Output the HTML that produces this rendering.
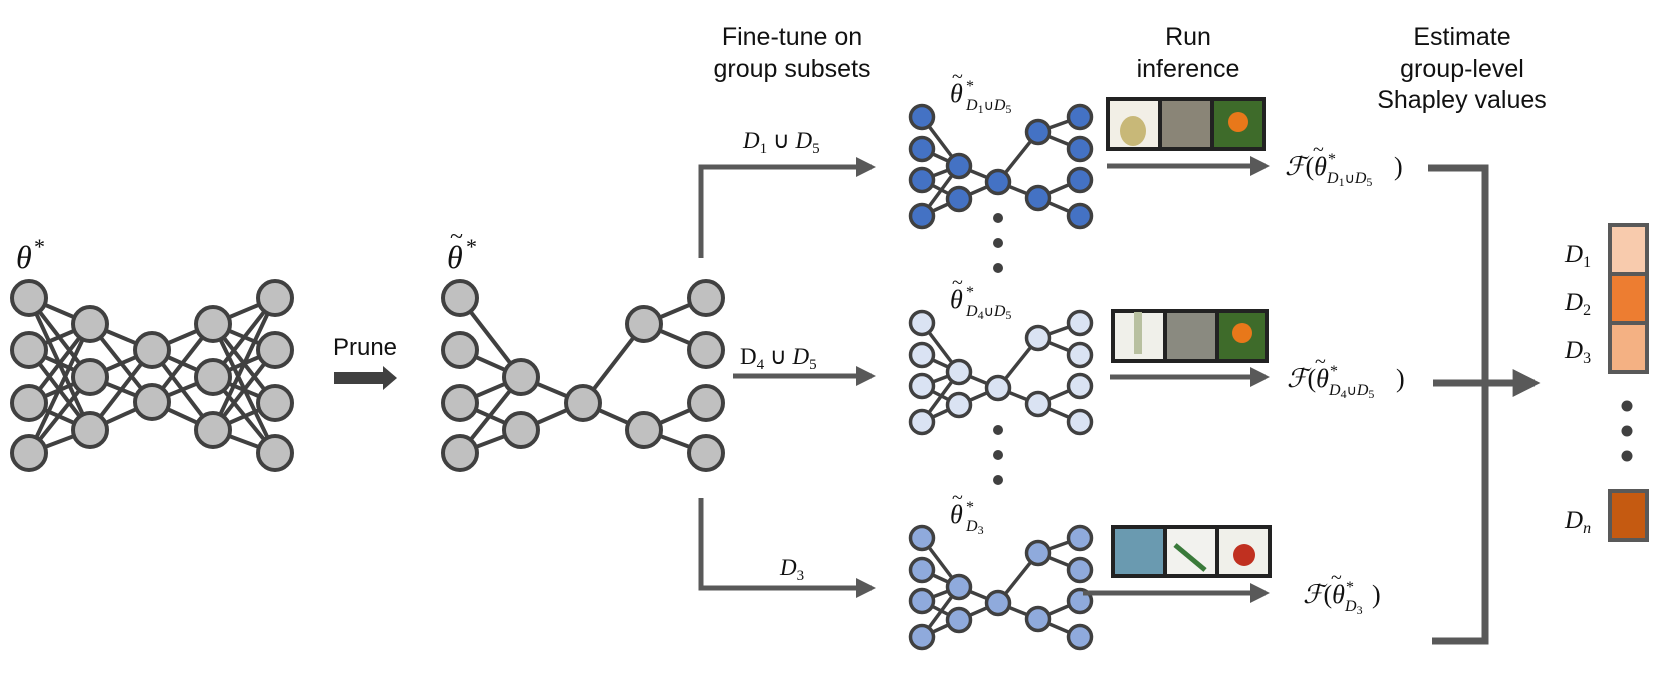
<!DOCTYPE html>
<html><head><meta charset="utf-8"><style>
html,body{margin:0;padding:0;background:#fff;}
svg{display:block;}
.h{font-family:"Liberation Sans",sans-serif;font-size:25px;fill:#111;text-anchor:middle;}
.m{font-family:"Liberation Serif",serif;font-style:italic;fill:#111;}
.n{font-family:"Liberation Serif",serif;fill:#111;}
</style></head><body>
<svg width="1661" height="673" viewBox="0 0 1661 673" xmlns="http://www.w3.org/2000/svg">
<defs>
<marker id="ah" markerWidth="4" markerHeight="4" refX="3.2" refY="2" orient="auto" markerUnits="strokeWidth"><path d="M0,0 L4,2 L0,4 z" fill="#595959"/></marker>
</defs>
<text class="h" x="792" y="45">Fine-tune on</text>
<text class="h" x="792" y="77">group subsets</text>
<text class="h" x="1188" y="45">Run</text>
<text class="h" x="1188" y="77">inference</text>
<text class="h" x="1462" y="45">Estimate</text>
<text class="h" x="1462" y="77">group-level</text>
<text class="h" x="1462" y="108">Shapley values</text>

<g stroke="#404040" stroke-width="4">
<path d="M29,298 L90,324 M29,298 L90,377 M29,298 L90,430 M29,350 L90,324 M29,350 L90,377 M29,350 L90,430 M29,403 L90,324 M29,403 L90,377 M29,403 L90,430 M29,453 L90,324 M29,453 L90,377 M29,453 L90,430
M90,324 L152,350 M90,324 L152,402 M90,377 L152,350 M90,377 L152,402 M90,430 L152,350 M90,430 L152,402
M152,350 L213,324 M152,350 L213,377 M152,350 L213,430 M152,402 L213,324 M152,402 L213,377 M152,402 L213,430
M213,324 L275,298 M213,324 L275,350 M213,324 L275,403 M213,324 L275,453 M213,377 L275,298 M213,377 L275,350 M213,377 L275,403 M213,377 L275,453 M213,430 L275,298 M213,430 L275,350 M213,430 L275,403 M213,430 L275,453" fill="none"/>
<g fill="#c0c0c0">
<circle cx="29" cy="298" r="17"/><circle cx="29" cy="350" r="17"/><circle cx="29" cy="403" r="17"/><circle cx="29" cy="453" r="17"/>
<circle cx="90" cy="324" r="17"/><circle cx="90" cy="377" r="17"/><circle cx="90" cy="430" r="17"/>
<circle cx="152" cy="350" r="17"/><circle cx="152" cy="402" r="17"/>
<circle cx="213" cy="324" r="17"/><circle cx="213" cy="377" r="17"/><circle cx="213" cy="430" r="17"/>
<circle cx="275" cy="298" r="17"/><circle cx="275" cy="350" r="17"/><circle cx="275" cy="403" r="17"/><circle cx="275" cy="453" r="17"/>
</g>
</g>
<text class="m" x="16" y="268" font-size="32">θ</text>
<text class="n" x="34" y="254" font-size="22">*</text>

<text x="365" y="355" font-family="Liberation Sans,sans-serif" font-size="24" text-anchor="middle" fill="#111">Prune</text>
<path d="M334,372 H383 V366 L397,378 L383,390 V384 H334 Z" fill="#404040"/>

<g stroke="#404040" stroke-width="4">
<path d="M460,298 L521,377 M460,350 L521,377 M460,403 L521,377 M460,403 L521,430 M460,453 L521,377 M460,453 L521,430 M521,377 L583,403 M521,430 L583,403 M583,403 L644,324 M583,403 L644,430 M644,324 L706,298 M644,324 L706,350 M644,430 L706,403 M644,430 L706,453" fill="none"/>
<g fill="#c0c0c0">
<circle cx="460" cy="298" r="17"/><circle cx="460" cy="350" r="17"/><circle cx="460" cy="403" r="17"/><circle cx="460" cy="453" r="17"/>
<circle cx="521" cy="377" r="17"/><circle cx="521" cy="430" r="17"/>
<circle cx="583" cy="403" r="17"/>
<circle cx="644" cy="324" r="17"/><circle cx="644" cy="430" r="17"/>
<circle cx="706" cy="298" r="17"/><circle cx="706" cy="350" r="17"/><circle cx="706" cy="403" r="17"/><circle cx="706" cy="453" r="17"/>
</g>
</g>
<text class="m" x="447" y="268" font-size="32">θ</text>
<text class="n" x="450" y="244" font-size="24">~</text>
<text class="n" x="466" y="254" font-size="22">*</text>

<g stroke="#595959" stroke-width="5" fill="none">
<path d="M701,258 V167 H872" marker-end="url(#ah)"/>
<path d="M733,376 H872" marker-end="url(#ah)"/>
<path d="M701,498 V588 H872" marker-end="url(#ah)"/>
</g>
<text class="m" x="743" y="148" font-size="23">D<tspan font-size="15" dy="5" font-style="normal">1</tspan><tspan dy="-5" font-style="normal"> ∪ </tspan>D<tspan font-size="15" dy="5" font-style="normal">5</tspan></text>
<text x="740" y="364" font-size="23" font-family="Liberation Serif,serif" fill="#111">D<tspan font-size="15" dy="5">4</tspan><tspan dy="-5"> ∪ </tspan><tspan font-style="italic">D</tspan><tspan font-size="15" dy="5">5</tspan></text>
<text class="m" x="780" y="575" font-size="23">D<tspan font-size="15" dy="5" font-style="normal">3</tspan></text>

<g stroke="#404040" stroke-width="3.5">
<path d="M922,117 L959,166 M922,149 L959,166 M922,180 L959,166 M922,180 L959,199 M922,216 L959,166 M922,216 L959,199 M959,166 L998,182 M959,199 L998,182 M998,182 L1038,132 M998,182 L1038,198 M1038,132 L1080,117 M1038,132 L1080,149 M1038,198 L1080,180 M1038,198 L1080,216" fill="none"/>
<g fill="#4472c4">
<circle cx="922" cy="117" r="11.5"/><circle cx="922" cy="149" r="11.5"/><circle cx="922" cy="180" r="11.5"/><circle cx="922" cy="216" r="11.5"/>
<circle cx="959" cy="166" r="11.5"/><circle cx="959" cy="199" r="11.5"/><circle cx="998" cy="182" r="11.5"/>
<circle cx="1038" cy="132" r="11.5"/><circle cx="1038" cy="198" r="11.5"/>
<circle cx="1080" cy="117" r="11.5"/><circle cx="1080" cy="149" r="11.5"/><circle cx="1080" cy="180" r="11.5"/><circle cx="1080" cy="216" r="11.5"/>
</g>
</g>
<g transform="translate(0,206)" stroke="#404040" stroke-width="3.5">
<path d="M922,117 L959,166 M922,149 L959,166 M922,180 L959,166 M922,180 L959,199 M922,216 L959,166 M922,216 L959,199 M959,166 L998,182 M959,199 L998,182 M998,182 L1038,132 M998,182 L1038,198 M1038,132 L1080,117 M1038,132 L1080,149 M1038,198 L1080,180 M1038,198 L1080,216" fill="none"/>
<g fill="#dae3f3">
<circle cx="922" cy="117" r="11.5"/><circle cx="922" cy="149" r="11.5"/><circle cx="922" cy="180" r="11.5"/><circle cx="922" cy="216" r="11.5"/>
<circle cx="959" cy="166" r="11.5"/><circle cx="959" cy="199" r="11.5"/><circle cx="998" cy="182" r="11.5"/>
<circle cx="1038" cy="132" r="11.5"/><circle cx="1038" cy="198" r="11.5"/>
<circle cx="1080" cy="117" r="11.5"/><circle cx="1080" cy="149" r="11.5"/><circle cx="1080" cy="180" r="11.5"/><circle cx="1080" cy="216" r="11.5"/>
</g>
</g>
<g transform="translate(0,421)" stroke="#404040" stroke-width="3.5">
<path d="M922,117 L959,166 M922,149 L959,166 M922,180 L959,166 M922,180 L959,199 M922,216 L959,166 M922,216 L959,199 M959,166 L998,182 M959,199 L998,182 M998,182 L1038,132 M998,182 L1038,198 M1038,132 L1080,117 M1038,132 L1080,149 M1038,198 L1080,180 M1038,198 L1080,216" fill="none"/>
<g fill="#8faadc">
<circle cx="922" cy="117" r="11.5"/><circle cx="922" cy="149" r="11.5"/><circle cx="922" cy="180" r="11.5"/><circle cx="922" cy="216" r="11.5"/>
<circle cx="959" cy="166" r="11.5"/><circle cx="959" cy="199" r="11.5"/><circle cx="998" cy="182" r="11.5"/>
<circle cx="1038" cy="132" r="11.5"/><circle cx="1038" cy="198" r="11.5"/>
<circle cx="1080" cy="117" r="11.5"/><circle cx="1080" cy="149" r="11.5"/><circle cx="1080" cy="180" r="11.5"/><circle cx="1080" cy="216" r="11.5"/>
</g>
</g>
<g fill="#404040">
<circle cx="998" cy="218" r="5"/><circle cx="998" cy="243" r="5"/><circle cx="998" cy="268" r="5"/>
<circle cx="998" cy="430" r="5"/><circle cx="998" cy="455" r="5"/><circle cx="998" cy="480" r="5"/>
<circle cx="1627" cy="406" r="5.5"/><circle cx="1627" cy="431" r="5.5"/><circle cx="1627" cy="456" r="5.5"/>
</g>

<text class="m" x="950" y="102" font-size="26">θ</text><text class="n" x="952" y="83" font-size="20">~</text><text class="n" x="966" y="91" font-size="16">*</text>
<text class="m" x="966" y="110" font-size="16">D<tspan font-style="normal" font-size="12" dy="3">1</tspan><tspan font-style="normal" font-size="14" dy="-3">∪</tspan>D<tspan font-style="normal" font-size="12" dy="3">5</tspan></text>
<text class="m" x="950" y="308" font-size="26">θ</text><text class="n" x="952" y="289" font-size="20">~</text><text class="n" x="966" y="297" font-size="16">*</text>
<text class="m" x="966" y="316" font-size="16">D<tspan font-style="normal" font-size="12" dy="3">4</tspan><tspan font-style="normal" font-size="14" dy="-3">∪</tspan>D<tspan font-style="normal" font-size="12" dy="3">5</tspan></text>
<text class="m" x="950" y="523" font-size="26">θ</text><text class="n" x="952" y="504" font-size="20">~</text><text class="n" x="966" y="512" font-size="16">*</text>
<text class="m" x="966" y="531" font-size="16">D<tspan font-style="normal" font-size="12" dy="3">3</tspan></text>

<g stroke="#222" stroke-width="2">
<rect x="1107" y="98" width="158" height="52" fill="#222"/>
<rect x="1109" y="100" width="50" height="48" fill="#f2efe6"/>
<ellipse cx="1133" cy="131" rx="13" ry="15" fill="#c8b878" stroke="none"/>
<rect x="1161" y="100" width="50" height="48" fill="#8a8577"/>
<rect x="1213" y="100" width="50" height="48" fill="#3e6b2a"/>
<circle cx="1238" cy="122" r="10" fill="#e8781a" stroke="none"/>
<rect x="1112" y="310" width="156" height="52" fill="#222"/>
<rect x="1114" y="312" width="50" height="48" fill="#f0f0ea"/>
<rect x="1134" y="312" width="8" height="42" fill="#b8c0a0" stroke="none"/>
<rect x="1166" y="312" width="50" height="48" fill="#8a8a80"/>
<rect x="1218" y="312" width="48" height="48" fill="#3e6b2a"/>
<circle cx="1242" cy="333" r="10" fill="#e8781a" stroke="none"/>
<rect x="1112" y="526" width="159" height="51" fill="#222"/>
<rect x="1114" y="528" width="50" height="47" fill="#6a9ab0"/>
<rect x="1166" y="528" width="50" height="47" fill="#f2f2ee"/>
<path d="M1175,545 L1205,570" stroke="#3a7a3a" stroke-width="5"/>
<rect x="1218" y="528" width="51" height="47" fill="#f0f0ea"/>
<circle cx="1244" cy="555" r="11" fill="#c03020" stroke="none"/>
</g>

<g stroke="#595959" stroke-width="5" fill="none">
<path d="M1107,166 H1266" marker-end="url(#ah)"/>
<path d="M1110,377 H1266" marker-end="url(#ah)"/>
<path d="M1083,593 H1266" marker-end="url(#ah)"/>
<path d="M1428,168 H1485 V641 H1432" stroke-width="7"/>
<path d="M1433,383 H1535" stroke-width="7" marker-end="url(#ah)"/>
</g>

<text class="m" x="1285" y="175" font-size="26">ℱ<tspan font-style="normal">(</tspan>θ</text><text class="n" x="1313" y="156" font-size="20">~</text><text class="n" x="1328" y="164" font-size="16">*</text>
<text class="m" x="1327" y="183" font-size="16">D<tspan font-style="normal" font-size="12" dy="3">1</tspan><tspan font-style="normal" font-size="14" dy="-3">∪</tspan>D<tspan font-style="normal" font-size="12" dy="3">5</tspan></text>
<text class="n" x="1394" y="175" font-size="26">)</text>

<text class="m" x="1287" y="387" font-size="26">ℱ<tspan font-style="normal">(</tspan>θ</text><text class="n" x="1315" y="368" font-size="20">~</text><text class="n" x="1330" y="376" font-size="16">*</text>
<text class="m" x="1329" y="395" font-size="16">D<tspan font-style="normal" font-size="12" dy="3">4</tspan><tspan font-style="normal" font-size="14" dy="-3">∪</tspan>D<tspan font-style="normal" font-size="12" dy="3">5</tspan></text>
<text class="n" x="1396" y="387" font-size="26">)</text>

<text class="m" x="1303" y="603" font-size="26">ℱ<tspan font-style="normal">(</tspan>θ</text><text class="n" x="1331" y="584" font-size="20">~</text><text class="n" x="1346" y="592" font-size="16">*</text>
<text class="m" x="1345" y="611" font-size="16">D<tspan font-style="normal" font-size="12" dy="3">3</tspan></text>
<text class="n" x="1372" y="603" font-size="26">)</text>

<g stroke="#595959" stroke-width="4">
<rect x="1610" y="225" width="37" height="49" fill="#f8cbad"/>
<rect x="1610" y="274" width="37" height="49" fill="#ed7d31"/>
<rect x="1610" y="323" width="37" height="49" fill="#f4b183"/>
<rect x="1610" y="491" width="37" height="49" fill="#c55a11"/>
</g>
<text class="m" x="1565" y="262" font-size="25">D<tspan font-style="normal" font-size="16" dy="5">1</tspan></text>
<text class="m" x="1565" y="310" font-size="25">D<tspan font-style="normal" font-size="16" dy="5">2</tspan></text>
<text class="m" x="1565" y="358" font-size="25">D<tspan font-style="normal" font-size="16" dy="5">3</tspan></text>
<text class="m" x="1565" y="528" font-size="25">D<tspan font-size="16" dy="5">n</tspan></text>
</svg>
</body></html>
